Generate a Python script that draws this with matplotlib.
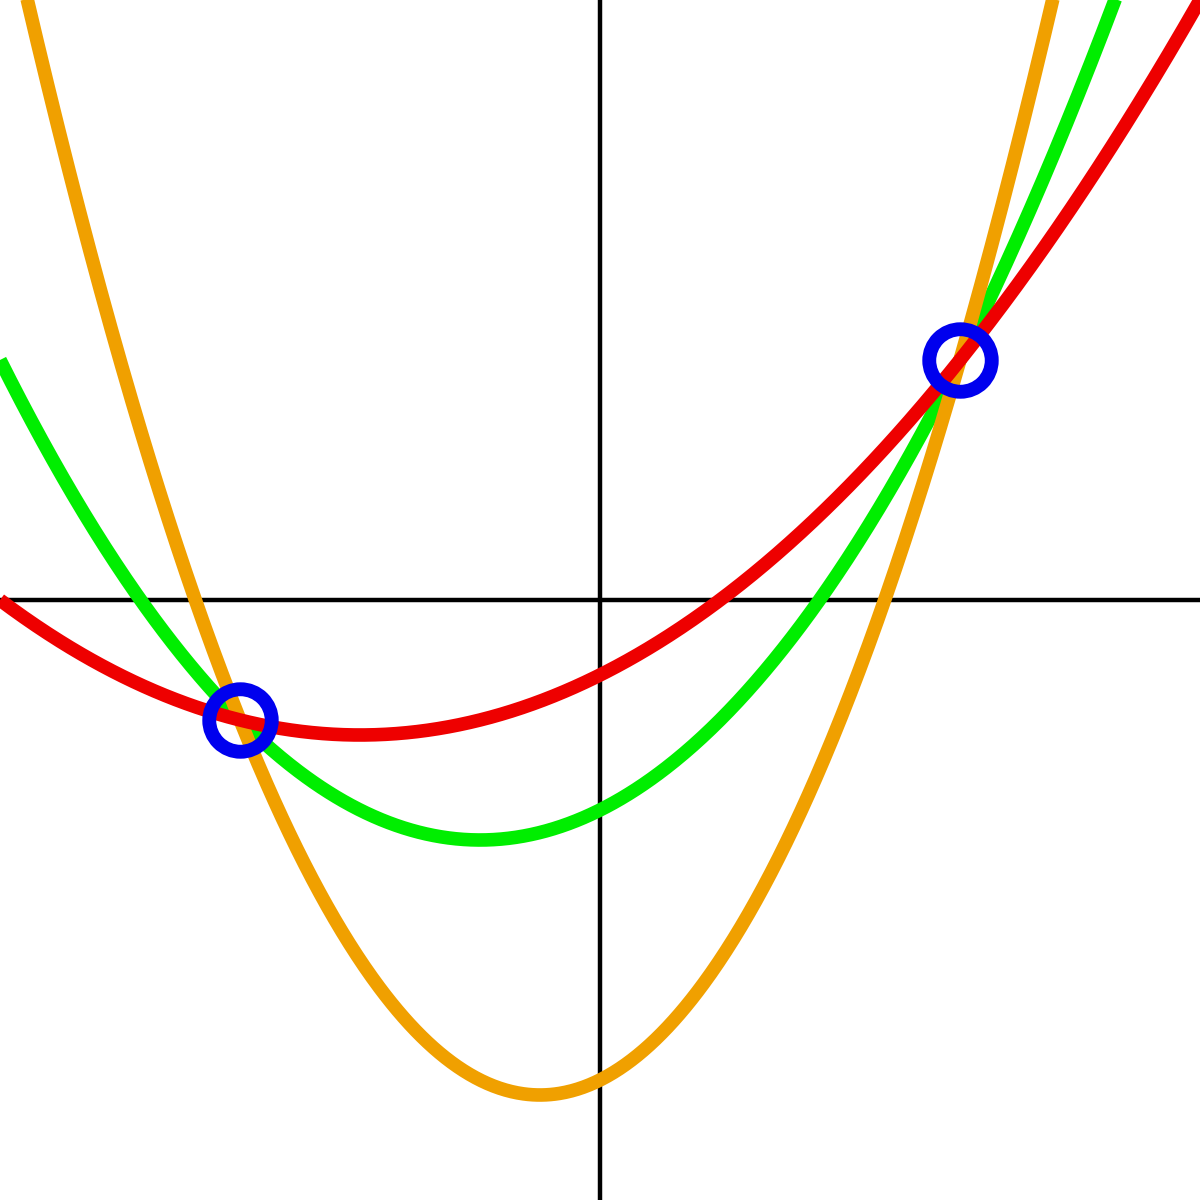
import numpy as np
import matplotlib.pyplot as plt

# parabolas y = a*x^2 + b*x + c, all through the two marked points
coef_green = [0.25, 0.5, -1.75]
coef_orange = [0.5, 0.5, -4.0]
coef_red = [0.125, 0.5, -0.625]
colors = ['#00EE00', '#F0A000', '#EE0000']

pts_x = [-3, 3]
pts_y = [-1, 2]

x = np.linspace(-5, 5, 801)

fig = plt.figure(figsize=(12, 12), dpi=100)
ax = fig.add_axes([0, 0, 1, 1])
ax.set_xlim(-5, 5)
ax.set_ylim(-5, 5)
ax.axis('off')

ax.axhline(0, color='black', lw=3.2, zorder=1)
ax.axvline(0, color='black', lw=3.2, zorder=1)

for coef, c in zip([coef_green, coef_orange, coef_red], colors):
	ax.plot(x, np.polyval(coef, x), color=c, lw=9.8, solid_capstyle='butt', zorder=2)

ax.plot(pts_x, pts_y, 'o', ms=45, mfc='none', mec='#0000EE', mew=10, zorder=3)

fig.savefig('out.png', dpi=100)
